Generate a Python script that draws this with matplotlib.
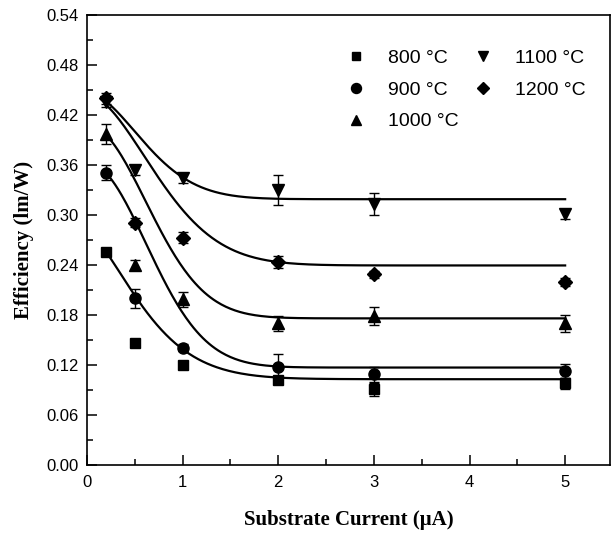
import numpy as np
import matplotlib.pyplot as plt

# substrate current (uA) and measured efficiency (lm/W) for each anneal temperature
current = [0.2, 0.5, 1, 2, 3, 5]

eff_800 = [0.256, 0.147, 0.120, 0.102, 0.091, 0.098]
err_800 = [0.003, 0.003, 0.003, 0.004, 0.008, 0.007]
eff_900 = [0.351, 0.200, 0.141, 0.118, 0.109, 0.113]
err_900 = [0.009, 0.011, 0.004, 0.015, 0.009, 0.008]
eff_1000 = [0.397, 0.240, 0.199, 0.170, 0.179, 0.170]
err_1000 = [0.012, 0.006, 0.009, 0.009, 0.011, 0.010]
eff_1100 = [0.436, 0.354, 0.344, 0.330, 0.313, 0.301]
err_1100 = [0.006, 0.006, 0.006, 0.018, 0.013, 0.006]
eff_1200 = [0.440, 0.291, 0.273, 0.244, 0.229, 0.220]
err_1200 = [0.007, 0.005, 0.007, 0.007, 0.004, 0.005]

# fitted decay y = y0 + A*exp(-(x/w)^p): y0, A, w, p
fit_800 = [0.103, 0.176, 0.735, 1.5]
fit_900 = [0.117, 0.246, 0.870, 2.0]
fit_1000 = [0.176, 0.232, 0.866, 2.0]
fit_1100 = [0.319, 0.128, 0.774, 1.8]
fit_1200 = [0.2395, 0.205, 0.937, 1.8]

labels = ["800 \u00b0C", "900 \u00b0C", "1000 \u00b0C", "1100 \u00b0C", "1200 \u00b0C"]
markers = ["s", "o", "^", "v", "D"]
sizes = [7, 8, 8.5, 8.5, 7]

def decay(x, p):
    y0, a, w, n = p
    return y0 + a * np.exp(-(x / w) ** n)

fig = plt.figure(figsize=(6.15, 5.37), dpi=100)
ax = fig.add_axes([0.1415, 0.134, 0.8505, 0.838])

series = [(eff_800, err_800, fit_800), (eff_900, err_900, fit_900),
          (eff_1000, err_1000, fit_1000), (eff_1100, err_1100, fit_1100),
          (eff_1200, err_1200, fit_1200)]

xf = np.linspace(0.2, 5, 300)
handles = []
for (y, e, p), lab, m, s in zip(series, labels, markers, sizes):
    ax.errorbar(current, y, yerr=e, fmt="none", ecolor="k", elinewidth=1,
                capsize=3.5, capthick=1)
    h, = ax.plot(current, y, linestyle="none", marker=m, ms=s, color="k", label=lab)
    handles.append(h)
    ax.plot(xf, decay(xf, p), color="k", lw=1.6)

ax.set_xlim(0, 5.47)
ax.set_ylim(0, 0.54)
ax.set_xticks([0, 1, 2, 3, 4, 5])
ax.set_xticks(np.arange(0.5, 5.5, 1), minor=True)
ax.set_yticks(np.arange(0, 0.541, 0.06))
ax.set_yticks(np.arange(0.03, 0.54, 0.06), minor=True)
ax.set_yticklabels(["%.2f" % v for v in np.arange(0, 0.541, 0.06)])
ax.tick_params(which="both", direction="in", top=False, right=False,
               labelsize=12, width=1.1)
ax.tick_params(which="major", length=7)
ax.tick_params(which="minor", length=4)
ax.tick_params(axis="x", which="major", pad=7.5)
ax.tick_params(axis="y", which="major", pad=6)
for lab in ax.get_xticklabels() + ax.get_yticklabels():
    lab.set_family("Liberation Sans")
for sp in ax.spines.values():
    sp.set_linewidth(1.2)

ax.set_xlabel("Substrate Current (\u03bcA)", family="Liberation Serif",
              fontweight="bold", fontsize=15, labelpad=14)
ax.set_ylabel("Efficiency (lm/W)", family="Liberation Serif",
              fontweight="bold", fontsize=15, labelpad=9)

ax.legend(handles=handles, ncol=2, frameon=False, loc="upper left",
          bbox_to_anchor=(0.452, 0.963), prop={"family": "Liberation Sans", "size": 14},
          handletextpad=0.9, columnspacing=0.5, labelspacing=0.73, handlelength=1.5,
          markerscale=0.9)

fig.savefig("out.png", dpi=100)
